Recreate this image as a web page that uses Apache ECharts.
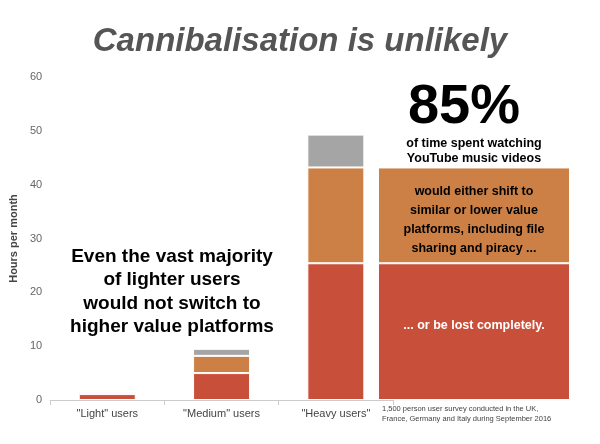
<!DOCTYPE html>
<html>
<head>
<meta charset="utf-8">
<script src="https://cdn.jsdelivr.net/npm/echarts@6/dist/echarts.min.js"></script>
<style>html,body{margin:0;padding:0;background:#fff}#main{width:600px;height:444px}</style>
</head>
<body>
<div id="main"></div>
<script>
// data
var categories = ['"Light" users', '"Medium" users', '"Heavy users"'];
var lostValues = [1.1, 5.0, 25.4];
var shiftValues = [0.4, 3.2, 17.8];
var otherValues = [0.1, 1.3, 6.1];
var panelLost = [25.4];
var panelShift = [17.8];

var red = '#c8503a', orange = '#cd8046', grey = '#a5a5a5';
var chart = echarts.init(document.getElementById('main'));

function seg(name, data, color, xi, stack) {
    return {
        name: name, type: 'bar', stack: stack, data: data,
        xAxisIndex: xi, yAxisIndex: xi,
        barWidth: xi ? '100%' : 57,
        itemStyle: {color: color, borderColor: '#fff', borderWidth: 1}
    };
}

function txt(x, y, s, size, color, lh) {
    return {type: 'text', x: x, y: y, z: 100,
        style: {text: s, align: 'center', fontSize: size, fontWeight: 'bold', fill: color, lineHeight: lh, fontFamily: 'Liberation Sans'}};
}

var option = {
    animation: false,
    title: {
        text: 'Cannibalisation is unlikely', left: 'center', top: 20,
        textStyle: {fontFamily: 'Liberation Sans', fontSize: 33, fontWeight: 'bold', fontStyle: 'italic', color: '#555'}
    },
    grid: [
        {left: 47, right: 207, top: 77, bottom: 44},
        {left: 378, right: 30, top: 77, bottom: 44}
    ],
    xAxis: [
        {type: 'category', data: categories, gridIndex: 0,
         axisLine: {lineStyle: {color: '#ccc'}}, axisTick: {show: true, lineStyle: {color: '#ccc'}},
         axisLabel: {color: '#444', fontSize: 11, fontFamily: 'Liberation Sans'}},
        {type: 'category', data: [''], gridIndex: 1, show: false}
    ],
    yAxis: [
        {type: 'value', min: 0, max: 60, interval: 10, gridIndex: 0,
         name: 'Hours per month', nameLocation: 'middle', nameGap: 30,
         nameTextStyle: {color: '#444', fontSize: 11, fontWeight: 'bold', fontFamily: 'Liberation Sans'},
         splitLine: {show: false}, axisLine: {show: false},
         axisLabel: {color: '#666', fontSize: 11, fontFamily: 'Liberation Sans'}},
        {type: 'value', min: 0, max: 60, gridIndex: 1, show: false}
    ],
    series: [
        seg('lost', lostValues, red, 0, 'a'),
        seg('shift', shiftValues, orange, 0, 'a'),
        seg('other', otherValues, grey, 0, 'a'),
        seg('plost', panelLost, red, 1, 'b'),
        seg('pshift', panelShift, orange, 1, 'b')
    ],
    graphic: [
        txt(464, 78, '85%', 56, '#000', 60),
        txt(474, 136, 'of time spent watching\nYouTube music videos', 12.5, '#000', 15),
        txt(474, 182, 'would either shift to\nsimilar or lower value\nplatforms, including file\nsharing and piracy ...', 12.5, '#000', 19),
        txt(474, 318, '... or be lost completely.', 12.5, '#fff', 15),
        txt(172, 245, 'Even the vast majority\nof lighter users\nwould not switch to\nhigher value platforms', 19, '#000', 23.5),
        {type: 'text', x: 382, y: 404, z: 100, style: {text: '1,500 person user survey conducted in the UK,\nFrance, Germany and Italy during September 2016', fontSize: 7.5, fill: '#444', lineHeight: 10, fontFamily: 'Liberation Sans'}}
    ]
};
chart.setOption(option);
</script>
</body>
</html>
